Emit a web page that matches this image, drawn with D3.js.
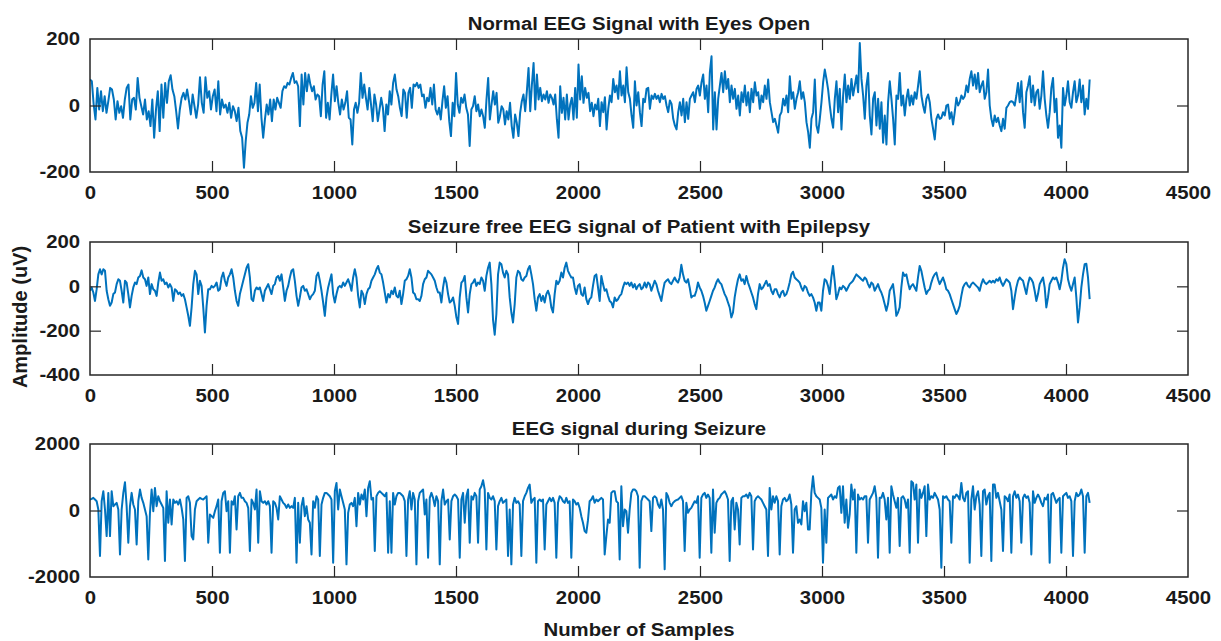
<!DOCTYPE html>
<html><head><meta charset="utf-8">
<script src="https://cdn.jsdelivr.net/npm/d3@7"></script>
<style>body{margin:0;background:#fff}svg{display:block}</style>
</head><body><svg id="c" width="1221" height="641"></svg>
<script>
// ---------------- data ----------------
const xTicks = [0,500,1000,1500,2000,2500,3000,3500,4000,4500];
const xDomain = [0,4500];
const panelTitles = ["Normal EEG Signal with Eyes Open","Seizure free EEG signal of Patient with Epilepsy","EEG signal during Seizure"];
const yTicks1 = [-200,0,200];
const yTicks2 = [-400,-200,0,200];
const yTicks3 = [-2000,0,2000];
const yDomain1 = [-200,200];
const yDomain2 = [-400,200];
const yDomain3 = [-2000,2000];
const xLabel = "Number of Samples";
const yLabel = "Amplitude (uV)";

// Normal EEG, eyes open (uV)
const normalEEG = [
78,73,3,-42,53,-12,43,-17,28,-22,13,53,48,18,-42,13,-22,-2,-37,18,
53,63,-42,18,23,-12,83,23,-2,-27,18,-42,-17,-62,18,-97,-12,43,-77,63,
-37,68,8,73,91,48,28,-17,-69,-12,23,38,18,48,13,-27,33,-2,-37,3,
85,8,-22,85,23,43,-12,28,48,-17,73,-27,18,-7,3,-22,8,-37,-2,-17,
-47,-7,-77,-97,-187,-107,-52,-27,28,-7,8,68,-17,63,-37,-97,-42,3,-27,18,
-47,18,-12,23,8,-7,43,58,53,68,63,83,98,68,73,58,-62,93,3,98,
43,93,63,43,58,18,33,28,-32,63,103,-37,8,-42,33,93,13,58,8,-27,
18,-12,8,43,-37,-42,-117,-12,8,-22,8,98,23,63,23,-12,53,3,-47,33,
3,-47,-12,23,-7,-77,3,-27,43,3,68,93,48,28,-7,-32,48,38,-37,38,
53,-7,63,58,68,53,63,28,33,-7,23,13,53,3,63,-12,-27,-7,-42,13,
58,-7,28,-47,-92,8,-32,98,3,-22,23,8,33,-7,-27,-122,-12,-2,28,-17,
3,-32,-12,-32,-67,18,83,-42,3,43,3,38,-52,-32,-2,-12,-57,-17,-42,8,
-62,-97,-27,-52,-92,-22,13,33,-17,43,113,-17,63,128,-12,93,18,53,13,33,
18,43,8,33,23,3,33,-42,-97,58,-22,23,-42,33,-42,3,23,-42,53,-37,
123,18,88,8,53,23,38,-17,8,-32,3,-12,
20,-62,10,-20,25,-72,-10,30,10,80,40,60,20,103,30,60,10,115,40,20,
-30,-67,73,0,40,-20,-62,20,10,50,53,-10,30,20,35,20,30,10,35,20,
28,0,-20,15,5,-40,-60,-72,-20,10,-30,20,-50,10,-40,20,30,40,10,50,
60,30,70,93,20,60,-20,100,148,-72,40,-72,20,60,98,40,103,50,80,10,
60,20,50,-10,30,-30,40,10,60,0,40,-20,50,10,70,30,40,-10,30,10,
60,20,78,10,-20,-50,-40,-60,-82,-30,-20,20,0,30,-20,88,20,40,-10,20,
40,73,20,40,10,-50,-80,-127,-40,-20,78,-60,-82,-40,10,70,108,80,48,0,
-40,-67,20,73,-20,50,-72,30,93,10,60,20,80,30,60,90,40,188,80,30,
-40,60,98,-30,-87,20,40,-60,20,-70,10,-112,-30,-117,10,73,20,-40,-117,30,
20,98,0,30,-30,20,48,0,30,3,40,20,60,103,30,0,-22,20,33,10,
-40,-70,-102,-40,-27,-40,-37,-20,-30,0,3,-40,-20,-57,-20,23,0,10,30,20,
28,60,40,80,103,60,93,50,98,40,60,73,20,40,108,0,-40,-62,-30,-50,
-37,-60,-77,-40,-70,-7,0,10,13,10,0,30,68,10,73,-20,-67,40,60,88,
10,60,0,40,48,-10,30,103,20,-30,-67,-20,53,83,-20,20,-97,-60,-127,53,
0,30,73,10,-7,40,73,10,30,78,10,60,-27,20,-10,78
];
const normalAnchorIdx = [0,84,146,215,253,291,292,587];
const normalAnchorSample = [0,631,1075,1556,1818,2077,2083,4097];

// Seizure-free EEG of patient with epilepsy (uV)
const seizureFreeEEG = [
-20,-5,-28,-66,-13,54,77,54,77,70,-20,-58,-88,-73,-35,-28,10,32,25,-20,
-73,25,17,-35,-95,-43,-5,17,10,40,47,72,40,32,2,40,-35,10,-13,-20,
-43,17,62,25,32,10,17,-5,10,-5,-66,-13,-20,-35,-28,-43,-35,-58,-95,-133,
-178,-95,10,70,54,-35,25,2,-95,-208,-88,-13,-13,2,-5,2,17,-20,-13,40,
62,25,2,40,54,77,40,-20,-66,-88,-35,-5,25,54,84,100,40,-58,-66,-20,
-5,-13,-5,-35,-66,-20,-5,10,-13,-35,2,10,40,47,25,54,-5,-66,-20,2,
40,70,77,25,-43,-88,-50,-5,2,-20,-13,-35,-58,-43,-35,-20,47,62,25,-20,
-73,-133,-50,-5,25,54,-35,-73,-35,-5,2,-5,17,2,17,32,10,-20,40,77,
40,-43,-95,-20,-35,-80,-35,-13,-5,25,40,54,77,92,62,54,17,-28,-73,-35,
-50,-20,-35,-5,-43,-50,-20,-80,-35,25,32,47,77,40,-28,-35,-58,-58,-66,-43,
10,32,40,70,62,54,40,25,-5,-28,-28,-73,-5,40,17,-35,-73,-66,-50,-88,
-140,-170,-50,17,25,47,-50,-118,-35,10,17,32,2,17,10,40,25,-20,47,84,
107,10,-151,-218,-125,54,107,100,62,40,70,54,-50,-118,-163,-80,40,70,62,32,
25,40,47,77,92,54,10,-58,-110,-50,-35,-66,-43,-73,-35,-20,-43,-95,-118,-35,
25,10,25,62,40,84,107,70,54,40,40,-5,-35,2,10,-35,-43,-5,-58,-80,
-58,-50,2,47,54,
-5,-66,47,10,-20,-13,-43,-66,-73,-95,-50,-66,-58,-43,-35,-5,17,10,17,2,
17,-5,10,-13,2,10,-13,-5,17,-5,17,10,-20,2,25,10,-20,-43,-66,-20,
17,25,32,17,10,25,40,25,17,40,97,54,25,17,32,-5,-50,-43,-43,-20,
17,-5,-20,-43,-73,-110,-88,-66,-43,-20,-5,17,32,17,10,-13,-35,-50,-73,-95,
-140,-118,-50,-5,32,54,25,32,10,47,17,-5,-28,-50,-80,-103,-35,10,-13,-5,
10,25,2,10,-20,-35,-13,-13,-35,-50,-28,-20,-43,-35,-13,17,54,66,40,32,
25,17,-5,-20,2,-5,-28,-43,-35,-50,-73,-110,-73,-73,-110,-20,32,25,2,-35,
40,92,25,-58,-35,-5,-13,2,-5,-20,-5,10,17,25,40,54,47,40,32,25,
40,32,10,-5,17,10,-20,-5,10,-13,-28,-50,-80,-110,-80,-20,-5,10,-50,-133,
-118,-95,-5,62,47,54,17,-13,2,10,-5,-20,40,92,70,32,-5,-35,-20,-13,
17,40,54,62,32,10,25,40,17,-13,-20,-35,-58,-80,-103,-125,-110,-88,-43,-5,
10,17,2,-5,10,17,10,2,-5,-20,10,32,17,10,17,25,17,25,17,32,
25,40,17,2,17,32,25,17,-20,-103,-50,-5,25,40,32,25,-5,-35,10,40,
32,17,-20,-66,-35,10,25,40,-5,-95,-50,10,25,40,32,40,17,-13,25,84,
122,100,32,2,-20,10,40,-50,-163,-95,-5,54,100,102,40,-58
];
const seizureFreeAnchorIdx = [0,304,305,600];
const seizureFreeAnchorSample = [0,2075,2082,4097];

// EEG during seizure (uV)
const seizureEEG = [
330,350,380,330,280,30,-1370,280,580,30,-770,530,-770,580,130,180,230,30,-1320,30,
530,850,130,-970,130,530,180,30,-1020,280,630,380,230,30,-170,-1470,-70,630,-20,680,
130,430,280,180,80,-1520,580,-370,330,-420,330,230,280,180,330,80,-270,-1520,380,430,
230,-770,-870,30,280,330,380,350,330,380,430,-970,-120,-170,-220,-20,130,330,-1270,280,
530,580,-20,280,-1270,280,180,430,-570,430,530,380,380,280,230,80,-1220,330,230,30,
630,-970,580,280,230,280,180,280,130,-1270,280,230,80,-270,430,330,230,180,80,180,
80,130,80,380,-1570,230,-970,130,380,-170,130,-270,-370,-1320,280,80,430,330,-1370,180,
380,530,530,480,430,330,-1570,580,830,30,630,430,230,30,-1620,-70,180,230,130,380,
-470,530,180,480,330,630,-170,680,880,330,380,-1220,430,530,580,530,480,430,530,-1270,
280,-1270,530,180,430,530,530,480,430,280,-1370,330,580,30,530,330,-1620,280,530,580,
630,-120,330,-1420,380,530,380,130,430,280,-1620,280,630,180,280,330,-870,280,430,480,
430,330,-1420,330,530,-370,430,630,-970,430,330,530,430,-970,630,730,910,630,-1170,530,
380,330,430,280,-1170,130,280,380,230,280,330,-1370,30,-1620,180,380,230,280,180,-1370,
280,430,530,680,780,230,330,380,-1570,280,330,280,330,-1170,180,280,380,280,380,230,
-1420,230,430,380,280,230,380,230,280,-1420,330,280,180,230,80,-170,-370,-620,-670,-290,
280,330,430,230,330,
280,330,380,330,-1320,-770,-270,-370,530,580,580,280,230,-1470,730,-470,30,-20,-670,30,
530,630,630,580,430,-1720,280,430,430,380,330,280,-620,380,430,380,180,80,330,30,
-1770,530,430,230,130,230,280,310,330,380,430,280,-1220,230,-70,30,80,180,280,230,
430,-1420,380,480,530,380,480,380,-1270,630,-670,230,330,380,480,530,580,480,330,-1520,
280,380,-570,230,30,-1020,380,430,430,480,380,530,430,-1170,280,380,430,380,330,230,
130,30,-1370,680,30,430,230,430,280,-1320,130,330,380,280,330,480,180,-1270,30,130,
-370,-270,-420,280,-20,230,-570,-570,530,1030,530,430,380,330,80,-1570,30,-970,380,430,
480,330,430,380,680,730,-70,730,-370,330,-520,-120,780,330,630,-1270,480,330,380,330,
430,430,-970,330,430,530,730,380,-1420,380,380,530,330,-270,380,-1270,730,480,280,80,
380,-1070,380,430,330,80,330,-1270,880,830,330,780,-970,630,380,530,730,-770,780,330,
430,380,530,430,330,30,-1720,430,380,430,330,280,-970,430,380,480,430,330,830,380,
280,530,580,-1570,330,730,30,430,580,180,-1370,580,630,180,430,530,-1520,780,780,380,
530,280,30,-1220,430,380,280,480,-1270,430,580,380,480,280,-970,380,480,380,430,230,
-1320,580,230,380,480,380,230,130,380,330,480,-1570,480,530,380,230,330,380,-1270,430,
480,530,380,430,280,-1370,280,530,430,480,630,430,-1270,430,530,230
];
const seizureAnchorIdx = [0,304,305,600];
const seizureAnchorSample = [0,2075,2082,4097];

// ---------------- drawing ----------------
const svg = d3.select("#c");
const left = 90, right = 1188;
const boxes = [[39,172],[242,375],[444,577]];
const FONT = "'Liberation Sans', Arial, Helvetica, sans-serif";
const TXT = "#1a1a1a";
const AX = "#262626";
const LINE = "#0072BD";
const TICK = 11;
const fmt = d => String(d);

const panels = [
  {title: panelTitles[0], values: normalEEG, aIdx: normalAnchorIdx, aSmp: normalAnchorSample, yDom: yDomain1, yT: yTicks1},
  {title: panelTitles[1], values: seizureFreeEEG, aIdx: seizureFreeAnchorIdx, aSmp: seizureFreeAnchorSample, yDom: yDomain2, yT: yTicks2},
  {title: panelTitles[2], values: seizureEEG, aIdx: seizureAnchorIdx, aSmp: seizureAnchorSample, yDom: yDomain3, yT: yTicks3}
];

const x = d3.scaleLinear().domain(xDomain).range([left, right]);

panels.forEach((p, k) => {
  const [top, bottom] = boxes[k];
  const y = d3.scaleLinear().domain(p.yDom).range([bottom, top]);
  const idxToSample = d3.scaleLinear().domain(p.aIdx).range(p.aSmp);
  const pts = p.values.map((v, i) => [idxToSample(i), v]);

  const clipId = "clip" + k;
  svg.append("clipPath").attr("id", clipId).append("rect")
    .attr("x", left).attr("y", top).attr("width", right - left).attr("height", bottom - top);

  svg.append("path")
    .datum(pts)
    .attr("clip-path", `url(#${clipId})`)
    .attr("fill", "none")
    .attr("stroke", LINE)
    .attr("stroke-width", 2)
    .attr("stroke-linejoin", "round")
    .attr("d", d3.line().x(d => x(d[0])).y(d => y(d[1])));

  const gB = svg.append("g").attr("transform", `translate(0,${bottom})`)
    .call(d3.axisBottom(x).tickValues(xTicks).tickFormat(fmt).tickSizeInner(-TICK).tickSizeOuter(0).tickPadding(14));
  const gT = svg.append("g").attr("transform", `translate(0,${top})`)
    .call(d3.axisTop(x).tickValues(xTicks).tickSizeInner(-TICK).tickSizeOuter(0).tickFormat(""));
  const gL = svg.append("g").attr("transform", `translate(${left},0)`)
    .call(d3.axisLeft(y).tickValues(p.yT).tickFormat(fmt).tickSizeInner(-TICK).tickSizeOuter(0).tickPadding(9));
  const gR = svg.append("g").attr("transform", `translate(${right},0)`)
    .call(d3.axisRight(y).tickValues(p.yT).tickSizeInner(-TICK).tickSizeOuter(0).tickFormat(""));

  [gB, gT, gL, gR].forEach(g => {
    g.select(".domain").remove();
    g.selectAll(".tick line").attr("stroke", AX).attr("stroke-width", 1.2);
    g.selectAll(".tick text")
      .attr("fill", TXT)
      .style("font-family", FONT)
      .style("font-weight", "bold")
      .style("font-size", "18.5px")
      .attr("transform", "scale(1.1,1)");
  });
  gB.selectAll(".tick line").filter(d => d === xDomain[0] || d === xDomain[1]).remove();
  gT.selectAll(".tick line").filter(d => d === xDomain[0] || d === xDomain[1]).remove();
  gL.selectAll(".tick line").filter(d => d === p.yDom[0] || d === p.yDom[1]).remove();
  gR.selectAll(".tick line").filter(d => d === p.yDom[0] || d === p.yDom[1]).remove();

  svg.append("rect")
    .attr("x", left).attr("y", top).attr("width", right - left).attr("height", bottom - top)
    .attr("fill", "none").attr("stroke", AX).attr("stroke-width", 1.5);

  svg.append("text")
    .attr("transform", `translate(${(left + right) / 2},${top - 9.5}) scale(1.1,1)`)
    .attr("text-anchor", "middle")
    .attr("fill", TXT)
    .style("font-family", FONT).style("font-weight", "bold").style("font-size", "18.5px")
    .text(p.title);
});

svg.append("text")
  .attr("transform", `translate(${(left + right) / 2},636) scale(1.1,1)`)
  .attr("text-anchor", "middle")
  .attr("fill", TXT)
  .style("font-family", FONT).style("font-weight", "bold").style("font-size", "18.5px")
  .text(xLabel);

svg.append("text")
  .attr("transform", "translate(27,317) rotate(-90)")
  .attr("text-anchor", "middle")
  .attr("fill", TXT)
  .style("font-family", FONT).style("font-weight", "bold").style("font-size", "20px")
  .text(yLabel);
</script>
</body></html>
